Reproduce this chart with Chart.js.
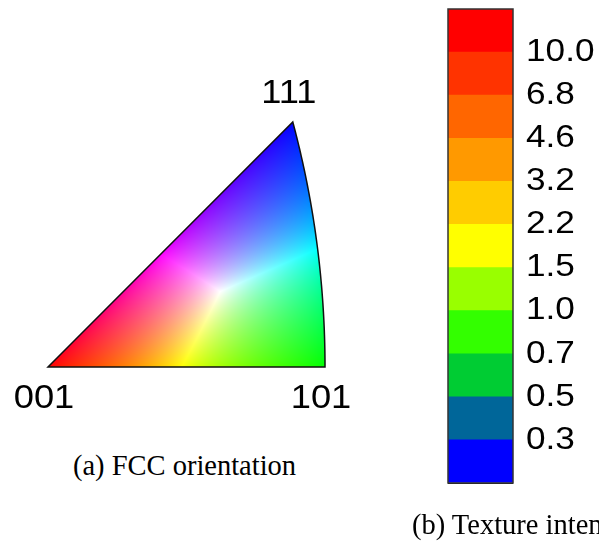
<!DOCTYPE html>
<html>
<head>
<meta charset="utf-8">
<script src="https://cdn.jsdelivr.net/npm/chart.js@4.4.0/dist/chart.umd.min.js"></script>
<style>
  html, body { margin: 0; padding: 0; background: #fff; overflow: hidden; }
  body { width: 599px; height: 550px; position: relative; }
  #ipf { position: absolute; left: 0; top: 0; }
  #bands { position: absolute; left: 380px; top: 0; }
  .caption {
    position: absolute;
    font-family: "Liberation Serif", "Times New Roman", serif;
    font-size: 28.5px;
    line-height: 32px;
    color: #000;
    white-space: nowrap;
  }
</style>
</head>
<body>
<canvas id="ipf" width="380" height="440"></canvas>
<canvas id="bands" width="219" height="550"></canvas>
<div class="caption" style="left:0; width:369px; top:450px; text-align:center;">(a) FCC orientation</div>
<div class="caption" style="left:412px; top:509px;">(b) Texture intensity</div>

<script>
// Stereographic positions of the standard triangle corners
const poleLabels = ['001', '101', '111'];
const poleX = [0, 0.4142, 0.3660];
const poleY = [0, 0, 0.3660];

// Intensity bands, bottom to top
const bandSpan = [1, 1, 1, 1, 1, 1, 1, 1, 1, 1, 1];
const bandColors = ['#0000ff', '#006699', '#00cc33', '#33ff00', '#99ff00', '#ffff00',
                    '#ffcc00', '#ff9900', '#ff6600', '#ff3300', '#ff0000'];
const levelLabels = ['0.3', '0.5', '0.7', '1.0', '1.5', '2.2', '3.2', '4.6', '6.8', '10.0'];

const sansFont = '"Liberation Sans", Arial, sans-serif';
const textStretch = 1.1;

// labels are drawn a little wider than the stock font
function drawWideText(ctx, text, x, y, align) {
    ctx.save();
    ctx.translate(x, y);
    ctx.scale(textStretch, 1);
    ctx.textAlign = align;
    ctx.textBaseline = 'middle';
    ctx.fillText(text, 0, 0);
    ctx.restore();
}

// IPF colour for a projected point; null outside the 001-101-111 triangle
function ipfColor(X, Y) {
    if (Y < 0 || Y > X) return null;
    const r2 = X * X + Y * Y;
    const dx = 2 * X / (1 + r2);
    const dy = 2 * Y / (1 + r2);
    const dz = (1 - r2) / (1 + r2);
    if (dx > dz) return null;
    const r = (dz - dx) * 1.0;
    const g = (dx - dy) * 1.4;
    const b = dy * 1.8;
    const m = Math.max(r, g, b) || 1;
    return [r, g, b].map(v => 255 * Math.pow(v / m, 0.8));
}

function toPixel(chart, X, Y) {
    return [chart.scales.x.getPixelForValue(X), chart.scales.y.getPixelForValue(Y)];
}

const ipfFill = {
    id: 'ipfFill',
    beforeDatasetsDraw(chart) {
        const { ctx, chartArea: a, scales: { x, y } } = chart;
        const x0 = Math.floor(a.left) - 2, y0 = Math.floor(a.top) - 2;
        const w = Math.ceil(a.right - a.left) + 4, h = Math.ceil(a.bottom - a.top) + 4;
        const off = document.createElement('canvas');
        off.width = w;
        off.height = h;
        const octx = off.getContext('2d');
        const img = octx.createImageData(w, h);
        for (let j = 0; j < h; j++) {
            for (let i = 0; i < w; i++) {
                const c = ipfColor(x.getValueForPixel(x0 + i + 0.5), y.getValueForPixel(y0 + j + 0.5));
                if (!c) continue;
                const k = (j * w + i) * 4;
                img.data[k] = c[0];
                img.data[k + 1] = c[1];
                img.data[k + 2] = c[2];
                img.data[k + 3] = 255;
            }
        }
        octx.putImageData(img, 0, 0);
        ctx.drawImage(off, x0, y0);

        // outline: straight edges plus the 101-111 great circle
        ctx.save();
        ctx.beginPath();
        let p = toPixel(chart, poleX[0], poleY[0]);
        ctx.moveTo(p[0], p[1]);
        for (let s = 0; s <= 60; s++) {
            const t = s / 60;
            const n = Math.sqrt(2 + t * t);
            const dx = 1 / n, dy = t / n, dz = 1 / n;
            p = toPixel(chart, dx / (1 + dz), dy / (1 + dz));
            ctx.lineTo(p[0], p[1]);
        }
        ctx.closePath();
        ctx.lineWidth = 1.5;
        ctx.strokeStyle = '#111';
        ctx.stroke();
        ctx.restore();
    },
    afterDatasetsDraw(chart) {
        const { ctx } = chart;
        const pts = chart.getDatasetMeta(0).data;
        ctx.save();
        ctx.font = '33px ' + sansFont;
        ctx.fillStyle = '#000';
        pts.forEach((pt, i) => {
            const above = poleY[i] > 0;
            drawWideText(ctx, poleLabels[i], pt.x - 4, above ? pt.y - 28 : pt.y + 32, 'center');
        });
        ctx.restore();
    }
};

new Chart(document.getElementById('ipf'), {
    type: 'scatter',
    data: {
        datasets: [{
            data: poleX.map((v, i) => ({ x: v, y: poleY[i] })),
            pointRadius: 0
        }]
    },
    options: {
        responsive: false,
        animation: false,
        layout: { padding: { left: 48, right: 55, top: 122, bottom: 73 } },
        plugins: { legend: { display: false }, tooltip: { enabled: false } },
        scales: {
            x: { type: 'linear', min: 0, max: 0.4142, display: false },
            y: { type: 'linear', min: 0, max: 0.3660, display: false }
        }
    },
    plugins: [ipfFill]
});

// frame round the bar and the level labels at the band boundaries
const bandFrame = {
    id: 'bandFrame',
    afterDraw(chart) {
        const { ctx, chartArea: a, scales: { y } } = chart;
        ctx.save();
        ctx.strokeStyle = '#333';
        ctx.lineWidth = 1.5;
        ctx.strokeRect(a.left, a.top, a.right - a.left, a.bottom - a.top);
        ctx.font = '32px ' + sansFont;
        ctx.fillStyle = '#000';
        y.ticks.forEach(t => {
            const label = levelLabels[t.value - 1];
            if (label) drawWideText(ctx, label, a.right + 13, y.getPixelForValue(t.value), 'left');
        });
        ctx.restore();
    }
};

new Chart(document.getElementById('bands'), {
    type: 'bar',
    data: {
        labels: [''],
        datasets: bandColors.map((c, i) => ({
            data: [bandSpan[i]],
            backgroundColor: c,
            borderWidth: 0,
            categoryPercentage: 1,
            barPercentage: 1
        }))
    },
    options: {
        responsive: false,
        animation: false,
        layout: { padding: { left: 68, right: 6, top: 9, bottom: 67 } },
        plugins: { legend: { display: false }, tooltip: { enabled: false } },
        scales: {
            x: { stacked: true, display: false },
            y: {
                stacked: true,
                min: 0,
                max: 11,
                position: 'right',
                z: 1,
                afterFit(scale) {
                    scale.width = 80;
                    scale.paddingTop = 0;
                    scale.paddingBottom = 0;
                },
                border: { display: false },
                grid: { color: '#111', lineWidth: 1, drawTicks: false },
                ticks: { stepSize: 1, autoSkip: false, display: false }
            }
        }
    },
    plugins: [bandFrame]
});
</script>
</body>
</html>
